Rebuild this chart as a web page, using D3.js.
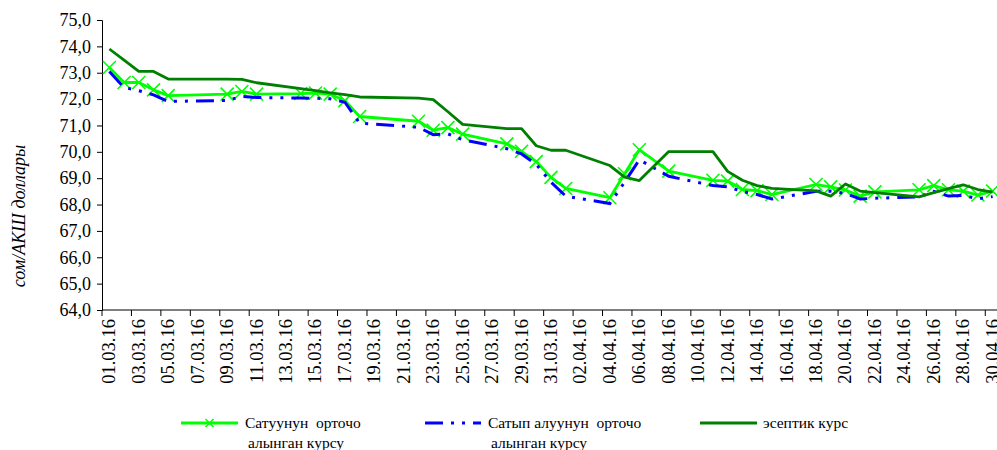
<!DOCTYPE html>
<html><head><meta charset="utf-8">
<script src="https://cdn.jsdelivr.net/npm/d3@7"></script>
<style>
body{margin:0;background:#fff}
svg{display:block}
text{font-family:"Liberation Serif","Times New Roman",serif;fill:#000}
</style>
</head><body>
<svg id="chart" width="997" height="450"></svg>
<script>
const categories = [
"01.03.16","02.03.16","03.03.16","04.03.16","05.03.16","06.03.16","07.03.16","08.03.16","09.03.16","10.03.16",
"11.03.16","12.03.16","13.03.16","14.03.16","15.03.16","16.03.16","17.03.16","18.03.16","19.03.16","20.03.16",
"21.03.16","22.03.16","23.03.16","24.03.16","25.03.16","26.03.16","27.03.16","28.03.16","29.03.16","30.03.16",
"31.03.16","01.04.16","02.04.16","03.04.16","04.04.16","05.04.16","06.04.16","07.04.16","08.04.16","09.04.16",
"10.04.16","11.04.16","12.04.16","13.04.16","14.04.16","15.04.16","16.04.16","17.04.16","18.04.16","19.04.16",
"20.04.16","21.04.16","22.04.16","23.04.16","24.04.16","25.04.16","26.04.16","27.04.16","28.04.16","29.04.16",
"30.04.16"];

const sellRate = [
73.20,72.63,72.63,72.35,72.13,null,null,null,72.19,72.29,
72.19,null,null,72.21,72.23,72.19,71.94,71.34,null,null,
null,71.16,70.82,70.92,70.67,null,null,70.30,70.02,69.63,
69.03,68.61,null,null,68.26,69.17,70.08,null,69.27,null,
null,68.92,68.89,68.57,68.53,68.38,null,null,68.76,68.67,
68.55,68.32,68.48,null,null,68.56,68.72,68.56,68.51,68.36,
68.51];

const buyRate = [
73.05,72.44,72.32,72.16,71.91,null,null,null,71.95,72.10,
72.06,null,null,72.04,72.03,72.01,71.88,71.09,null,null,
null,70.93,70.65,70.68,70.46,null,null,70.12,69.92,69.52,
68.85,68.32,null,null,68.04,68.85,69.70,null,69.07,null,
null,68.72,68.67,68.50,68.38,68.21,null,null,68.50,68.51,
68.42,68.21,68.24,null,null,68.29,68.50,68.32,68.35,68.22,
68.30];

const officialRate = [
73.90,73.48,73.05,73.05,72.76,null,null,null,72.76,72.75,
72.62,null,null,72.40,72.32,72.24,72.17,72.08,null,null,
null,72.04,71.98,71.52,71.04,null,null,70.88,70.88,70.23,
70.06,70.06,null,null,69.48,69.04,68.91,null,70.01,null,
null,70.01,69.26,68.92,68.72,68.61,null,null,68.52,68.32,
68.78,68.51,68.45,null,null,68.29,68.45,68.60,68.75,68.57,
68.47];

const yTicks = [64,65,66,67,68,69,70,71,72,73,74,75];
const yTitle = "сом/АКШ доллары";
const legendNames = [["Сатуунун  орточо","алынган курсу"],["Сатып алуунун  орточо","алынган курсу"],["эсептик курс"]];

const svg = d3.select("#chart");
const x = d3.scaleBand().domain(categories).range([102, 1000]).padding(0);
const y = d3.scaleLinear().domain([64, 75]).range([310, 20]);
const cx = d => x(d) + x.bandwidth()/2;

// Y axis
const yAxis = d3.axisLeft(y).tickValues(yTicks).tickSize(5).tickPadding(6)
  .tickFormat(v => d3.format(".1f")(v).replace(".", ","));
const gy = svg.append("g").attr("transform","translate(102,0)").call(yAxis);
gy.selectAll("path,line").attr("stroke","#000").attr("stroke-width",1);
gy.selectAll("text").attr("font-size","18px").attr("font-family","Liberation Serif");

// X axis: ticks every 2 categories at band boundaries
const xAxisY = 310;
const gx = svg.append("g");
gx.append("line").attr("x1",102).attr("x2",997).attr("y1",xAxisY).attr("y2",xAxisY)
  .attr("stroke","#000").attr("stroke-width",1);
categories.forEach((c,i) => {
  if (i % 2 === 0) {
    gx.append("line").attr("x1",x(c)).attr("x2",x(c)).attr("y1",xAxisY).attr("y2",xAxisY+6)
      .attr("stroke","#000").attr("stroke-width",1);
    gx.append("text").attr("transform",`translate(${cx(c)+6},${xAxisY+9}) rotate(-90)`)
      .attr("text-anchor","end").attr("font-size","18.5px").text(c);
  }
});

// Y title
svg.append("text").attr("transform","translate(25,216) rotate(-90)")
  .attr("text-anchor","middle").attr("font-size","18px").attr("font-style","italic").text(yTitle);

// Lines
function pts(arr){ return categories.map((c,i)=>({c, v:arr[i]})).filter(d=>d.v!==null); }
const line = d3.line().x(d=>cx(d.c)).y(d=>y(d.v));

const sellPts = pts(sellRate);
svg.append("path").datum(sellPts).attr("d",line).attr("fill","none")
  .attr("stroke","#00FF00").attr("stroke-width",2.8).attr("stroke-linejoin","round");
const ms = 6.5;
svg.append("g").selectAll("path").data(sellPts).join("path")
  .attr("d", d => { const px=cx(d.c), py=y(d.v);
     return `M${px-ms},${py-ms}L${px+ms},${py+ms}M${px-ms},${py+ms}L${px+ms},${py-ms}`; })
  .attr("stroke","#00FF00").attr("stroke-width",1.6).attr("fill","none");

svg.append("path").datum(pts(buyRate)).attr("d",line).attr("fill","none")
  .attr("stroke","#0000FF").attr("stroke-width",3).attr("stroke-dasharray","18,8,3,8,3,8");

svg.append("path").datum(pts(officialRate)).attr("d",line).attr("fill","none")
  .attr("stroke","#008000").attr("stroke-width",2.8).attr("stroke-linejoin","round");

// Legend
const lg = svg.append("g");
const row1 = 428, row2 = 448;
const items = [
  {x1:181, x2:238, tx:245, color:"#00FF00", dash:null, marker:true},
  {x1:425, x2:481, tx:488, color:"#0000FF", dash:"18,8,3,8,3,8", marker:false},
  {x1:700, x2:757, tx:763, color:"#008000", dash:null, marker:false}
];
items.forEach((it,k) => {
  const ly = row1 - 5;
  const l = lg.append("line").attr("x1",it.x1).attr("x2",it.x2).attr("y1",ly).attr("y2",ly)
    .attr("stroke",it.color).attr("stroke-width",3);
  if (it.dash) l.attr("stroke-dasharray",it.dash);
  if (it.marker) {
    const mx=(it.x1+it.x2)/2, m=4;
    lg.append("path").attr("d",`M${mx-m},${ly-m}L${mx+m},${ly+m}M${mx-m},${ly+m}L${mx+m},${ly-m}`)
      .attr("stroke",it.color).attr("stroke-width",1.5);
  }
  legendNames[k].forEach((t,j) => {
    lg.append("text").attr("x", it.tx + (j ? 3 : 0)).attr("y", j ? row2 : row1)
      .attr("font-size","15.5px").style("white-space","pre").text(t);
  });
});
</script>
</body></html>
